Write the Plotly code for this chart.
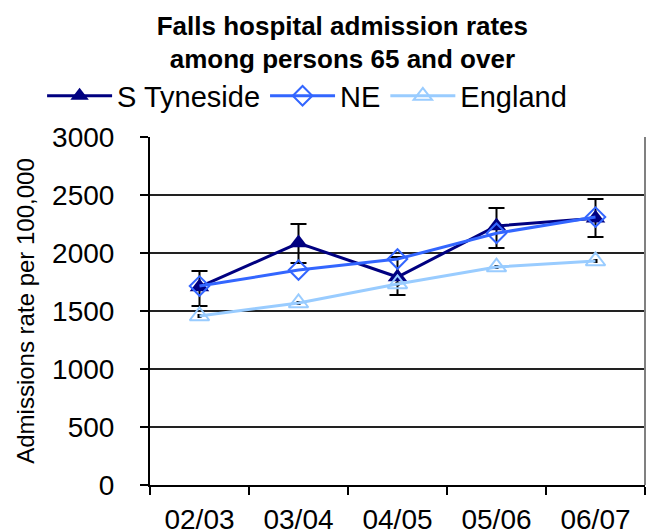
import plotly.graph_objects as go

years = ["02/03", "03/04", "04/05", "05/06", "06/07"]
s_tyneside = [1707, 2086, 1793, 2233, 2300]
s_tyneside_hi = [1845, 2250, 1965, 2388, 2466]
s_tyneside_lo = [1543, 1914, 1638, 2043, 2138]
ne = [1715, 1853, 1948, 2170, 2310]
england = [1457, 1569, 1733, 1879, 1931]
england_err = [8, 8, 8, 8, 8]

FONT = "Liberation Sans, Arial, sans-serif"

st_plus = [h - v for h, v in zip(s_tyneside_hi, s_tyneside)]
st_minus = [v - l for l, v in zip(s_tyneside_lo, s_tyneside)]

fig = go.Figure()
fig.add_trace(go.Scatter(
    x=years, y=s_tyneside, name="S Tyneside", mode="lines+markers",
    line=dict(color="#000080", width=3),
    marker=dict(symbol="triangle-up", size=17, color="#000080"),
    error_y=dict(type="data", symmetric=False, array=st_plus, arrayminus=st_minus,
                 color="#000000", thickness=2, width=8),
))
fig.add_trace(go.Scatter(
    x=years, y=ne, name="NE", mode="lines+markers",
    line=dict(color="#3366FF", width=3),
    marker=dict(symbol="diamond-open", size=15, color="#3366FF", line=dict(width=2)),
))
fig.add_trace(go.Scatter(
    x=years, y=england, name="England", mode="lines+markers",
    line=dict(color="#99CCFF", width=3),
    marker=dict(symbol="triangle-up-open", size=17, color="#99CCFF", line=dict(width=2)),
    error_y=dict(type="data", array=england_err, color="#000000", thickness=2, width=2),
))

fig.update_layout(
    width=646, height=531,
    margin=dict(l=150, r=1, t=137, b=46, autoexpand=False),
    paper_bgcolor="white", plot_bgcolor="white",
    font=dict(family=FONT, color="#000000"),
    title=dict(
        text="<b>Falls hospital admission rates<br>among persons 65 and over</b>",
        x=0.53, xanchor="center", y=0.935, yanchor="top",
        font=dict(size=26, family=FONT, color="#000000"),
    ),
    showlegend=True,
    legend=dict(
        orientation="h", x=-0.218, xanchor="left", y=1.118, yanchor="middle",
        font=dict(size=29, family=FONT), itemwidth=65,
        bgcolor="rgba(0,0,0,0)", tracegroupgap=0,
    ),
    xaxis=dict(
        type="category", tickson="boundaries", ticks="outside", ticklen=8,
        tickwidth=2, tickcolor="#000000", showline=True, linecolor="#000000",
        linewidth=2, showgrid=False, tickfont=dict(size=28, family=FONT),
        ticklabelstandoff=8, range=[-0.5, 4.5], automargin=False,
    ),
    yaxis=dict(
        range=[0, 3000], dtick=500, tick0=0, ticks="outside", ticklen=8,
        tickwidth=2, tickcolor="#000000", showline=True, linecolor="#000000",
        linewidth=2, showgrid=True, gridcolor="#222222", gridwidth=1.5,
        zeroline=False, tickfont=dict(size=28, family=FONT),
        ticklabelstandoff=20, automargin=False,
        title=dict(text="Admissions rate per 100,000", font=dict(size=24, family=FONT), standoff=11),
    ),
    shapes=[dict(type="line", xref="paper", yref="paper", x0=1, x1=1, y0=0, y1=1,
                 line=dict(color="#808080", width=2))],
)

fig.write_html("out.html", config={"displayModeBar": False},
               post_script="document.body.style.margin='0px';document.body.style.overflow='hidden';")
